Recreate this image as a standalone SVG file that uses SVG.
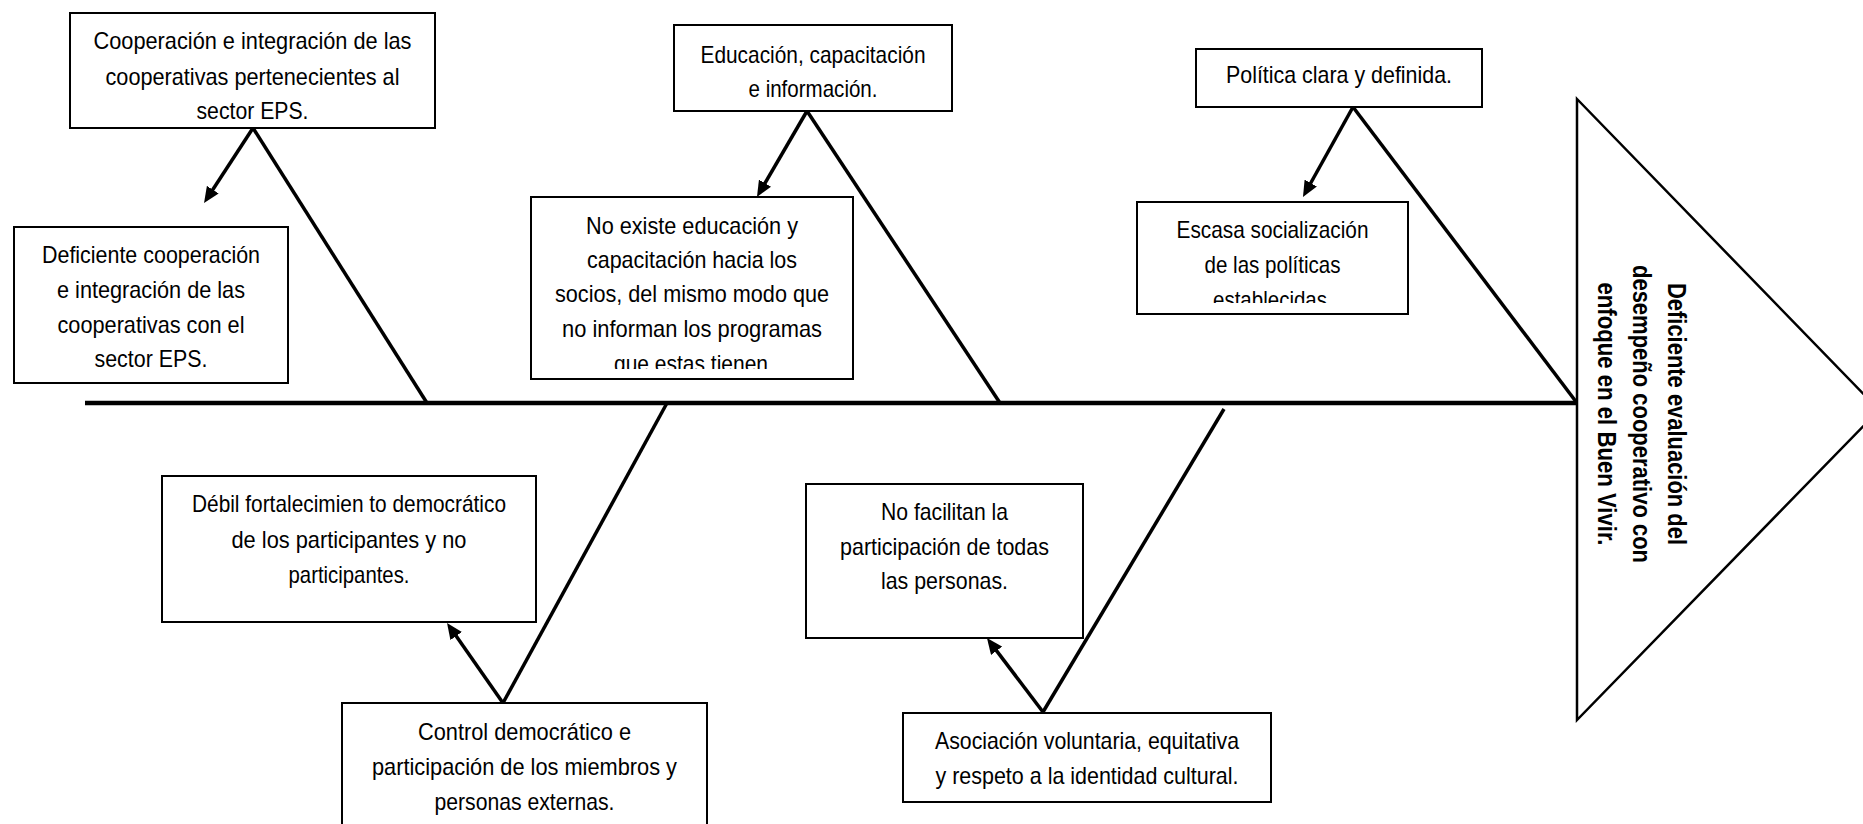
<svg xmlns="http://www.w3.org/2000/svg" width="1863" height="824" viewBox="0 0 1863 824">
<style>
.box{fill:#fff;stroke:#000;stroke-width:2}
.t{font-family:"Liberation Sans",Arial,sans-serif;font-size:24px;fill:#000;text-anchor:middle}
.tb{font-family:"Liberation Sans",Arial,sans-serif;font-size:26px;font-weight:bold;fill:#000;text-anchor:middle}
.bone{stroke:#000;stroke-width:3.5;fill:none}
.arr{stroke:#000;stroke-width:3.5;fill:none;marker-end:url(#ah)}
</style>
<defs>
<marker id="ah" markerUnits="userSpaceOnUse" markerWidth="16" markerHeight="14" refX="4" refY="7" orient="auto">
<path d="M0,0 L16,7 L0,14 z" fill="#000"/>
</marker>
<clipPath id="c4"><rect x="531" y="197" width="322" height="172"/></clipPath>
<clipPath id="c6"><rect x="1137" y="202" width="271" height="101"/></clipPath>
</defs>
<rect width="1863" height="824" fill="#fff"/>
<g id="connectors">
<line class="bone" x1="85" y1="403" x2="1577" y2="403" style="stroke-width:4.5"/>
<line class="bone" x1="253" y1="128" x2="427" y2="403"/>
<line class="bone" x1="807" y1="111" x2="1000" y2="403"/>
<line class="bone" x1="1353" y1="107" x2="1577" y2="403"/>
<line class="bone" x1="667" y1="403" x2="503" y2="703"/>
<line class="bone" x1="1224" y1="409" x2="1043" y2="712"/>
<line class="arr" x1="253" y1="128" x2="210.6" y2="193"/>
<line class="arr" x1="807" y1="111" x2="763" y2="186.6"/>
<line class="arr" x1="1353" y1="107" x2="1308.8" y2="186.5"/>
<line class="arr" x1="503" y1="703" x2="453.9" y2="632.8"/>
<line class="arr" x1="1043" y1="712" x2="994.2" y2="647.6"/>
</g>
<g id="n1">
<rect class="box" x="70" y="13" width="365" height="115"/>
<text class="t" x="252.5" y="49" textLength="318" lengthAdjust="spacingAndGlyphs">Cooperación e integración de las</text>
<text class="t" x="252.5" y="85" textLength="294" lengthAdjust="spacingAndGlyphs">cooperativas pertenecientes al</text>
<text class="t" x="252.5" y="119" textLength="112" lengthAdjust="spacingAndGlyphs">sector EPS.</text>
</g>
<g id="n2">
<rect class="box" x="14" y="227" width="274" height="156"/>
<text class="t" x="151" y="263" textLength="218" lengthAdjust="spacingAndGlyphs">Deficiente cooperación</text>
<text class="t" x="151" y="298" textLength="188" lengthAdjust="spacingAndGlyphs">e integración de las</text>
<text class="t" x="151" y="333" textLength="187" lengthAdjust="spacingAndGlyphs">cooperativas con el</text>
<text class="t" x="151" y="367" textLength="113" lengthAdjust="spacingAndGlyphs">sector EPS.</text>
</g>
<g id="n3">
<rect class="box" x="674" y="25" width="278" height="86"/>
<text class="t" x="813" y="63" textLength="225" lengthAdjust="spacingAndGlyphs">Educación, capacitación</text>
<text class="t" x="813" y="97" textLength="129" lengthAdjust="spacingAndGlyphs">e información.</text>
</g>
<g id="n4">
<rect class="box" x="531" y="197" width="322" height="182"/>
<g clip-path="url(#c4)">
<text class="t" x="692" y="234" textLength="212" lengthAdjust="spacingAndGlyphs">No existe educación y</text>
<text class="t" x="692" y="268" textLength="210" lengthAdjust="spacingAndGlyphs">capacitación hacia los</text>
<text class="t" x="692" y="302" textLength="274" lengthAdjust="spacingAndGlyphs">socios, del mismo modo que</text>
<text class="t" x="692" y="337" textLength="260" lengthAdjust="spacingAndGlyphs">no informan los programas</text>
<text class="t" x="691" y="372" textLength="154" lengthAdjust="spacingAndGlyphs">que estas tienen</text>
</g>
</g>
<g id="n5">
<rect class="box" x="1196" y="49" width="286" height="58"/>
<text class="t" x="1339" y="83" textLength="226" lengthAdjust="spacingAndGlyphs">Política clara y definida.</text>
</g>
<g id="n6">
<rect class="box" x="1137" y="202" width="271" height="112"/>
<g clip-path="url(#c6)">
<text class="t" x="1272.5" y="238" textLength="192" lengthAdjust="spacingAndGlyphs">Escasa socialización</text>
<text class="t" x="1272.5" y="273" textLength="136" lengthAdjust="spacingAndGlyphs">de las políticas</text>
<text class="t" x="1270" y="308" textLength="114" lengthAdjust="spacingAndGlyphs">establecidas</text>
</g>
</g>
<g id="n7">
<rect class="box" x="162" y="476" width="374" height="146"/>
<text class="t" x="349" y="512" textLength="314" lengthAdjust="spacingAndGlyphs">Débil fortalecimien to democrático</text>
<text class="t" x="349" y="548" textLength="235" lengthAdjust="spacingAndGlyphs">de los participantes y no</text>
<text class="t" x="349" y="583" textLength="121" lengthAdjust="spacingAndGlyphs">participantes.</text>
</g>
<g id="n8">
<rect class="box" x="342" y="703" width="365" height="130"/>
<text class="t" x="524.5" y="740" textLength="213" lengthAdjust="spacingAndGlyphs">Control democrático e</text>
<text class="t" x="524.5" y="775" textLength="305" lengthAdjust="spacingAndGlyphs">participación de los miembros y</text>
<text class="t" x="524.5" y="810" textLength="180" lengthAdjust="spacingAndGlyphs">personas externas.</text>
</g>
<g id="n9">
<rect class="box" x="806" y="484" width="277" height="154"/>
<text class="t" x="944.5" y="520" textLength="127" lengthAdjust="spacingAndGlyphs">No facilitan la</text>
<text class="t" x="944.5" y="555" textLength="209" lengthAdjust="spacingAndGlyphs">participación de todas</text>
<text class="t" x="944.5" y="589" textLength="127" lengthAdjust="spacingAndGlyphs">las personas.</text>
</g>
<g id="n10">
<rect class="box" x="903" y="713" width="368" height="89"/>
<text class="t" x="1087" y="749" textLength="304" lengthAdjust="spacingAndGlyphs">Asociación voluntaria, equitativa</text>
<text class="t" x="1087" y="784" textLength="303" lengthAdjust="spacingAndGlyphs">y respeto a la identidad cultural.</text>
</g>
<g id="n11">
<polygon points="1577,99 1879,410 1577,720" fill="#fff" stroke="#000" stroke-width="2.5"/>
<text class="tb" transform="translate(1668,414) rotate(90)" textLength="262" lengthAdjust="spacingAndGlyphs">Deficiente evaluación del</text>
<text class="tb" transform="translate(1633,414) rotate(90)" textLength="298" lengthAdjust="spacingAndGlyphs">desempeño cooperativo con</text>
<text class="tb" transform="translate(1598,414) rotate(90)" textLength="263" lengthAdjust="spacingAndGlyphs">enfoque en el Buen Vivir.</text>
</g>
</svg>
